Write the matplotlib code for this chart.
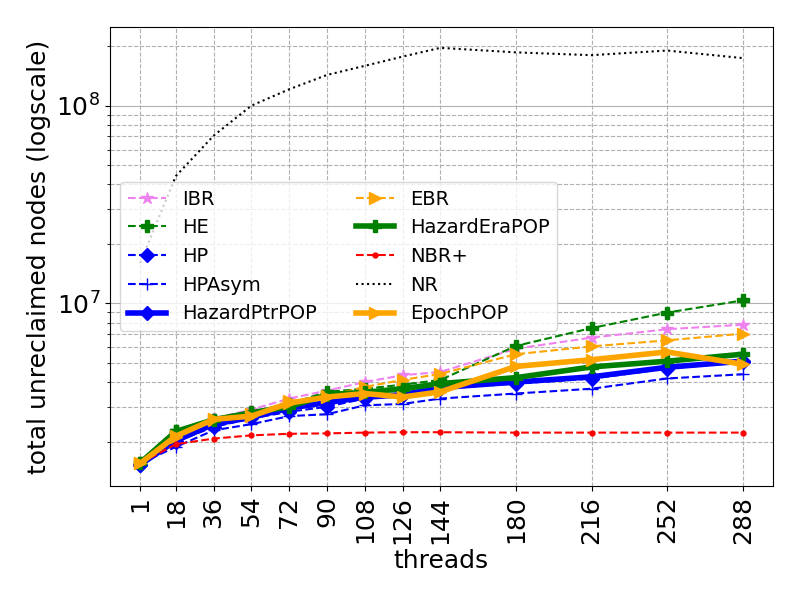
import matplotlib
matplotlib.use("Agg")
import matplotlib.pyplot as plt

threads = [1, 18, 36, 54, 72, 90, 108, 126, 144, 180, 216, 252, 288]

IBR          = [1.55e6, 2.10e6, 2.62e6, 2.90e6, 3.30e6, 3.62e6, 4.00e6, 4.33e6, 4.50e6, 5.90e6, 6.71e6, 7.40e6, 7.80e6]
HE           = [1.55e6, 2.26e6, 2.58e6, 2.83e6, 3.10e6, 3.57e6, 3.70e6, 3.88e6, 4.10e6, 6.09e6, 7.50e6, 8.98e6, 1.035e7]
HP           = [1.52e6, 2.00e6, 2.37e6, 2.62e6, 2.83e6, 3.00e6, 3.30e6, 3.43e6, 3.70e6, 3.93e6, 4.16e6, 4.68e6, 5.05e6]
HPAsym       = [1.55e6, 1.88e6, 2.28e6, 2.45e6, 2.69e6, 2.75e6, 3.05e6, 3.10e6, 3.30e6, 3.50e6, 3.70e6, 4.17e6, 4.38e6]
HazardPtrPOP = [1.53e6, 2.02e6, 2.45e6, 2.65e6, 2.95e6, 3.15e6, 3.35e6, 3.45e6, 3.75e6, 4.00e6, 4.25e6, 4.75e6, 5.10e6]
EBR          = [1.55e6, 2.12e6, 2.58e6, 2.75e6, 3.20e6, 3.40e6, 3.78e6, 4.10e6, 4.40e6, 5.53e6, 6.06e6, 6.50e6, 7.03e6]
HazardEraPOP = [1.56e6, 2.25e6, 2.58e6, 2.80e6, 3.00e6, 3.45e6, 3.55e6, 3.70e6, 3.93e6, 4.21e6, 4.77e6, 5.10e6, 5.53e6]
NBRplus      = [1.55e6, 1.94e6, 2.07e6, 2.15e6, 2.19e6, 2.20e6, 2.22e6, 2.23e6, 2.23e6, 2.22e6, 2.22e6, 2.22e6, 2.22e6]
NR           = [1.6e7, 4.4e7, 7.05e7, 1.0e8, 1.21e8, 1.43e8, 1.59e8, 1.77e8, 1.96e8, 1.86e8, 1.80e8, 1.90e8, 1.74e8]
EpochPOP     = [1.55e6, 2.13e6, 2.59e6, 2.69e6, 3.13e6, 3.36e6, 3.50e6, 3.36e6, 3.57e6, 4.80e6, 5.19e6, 5.68e6, 4.92e6]

fig, ax = plt.subplots(figsize=(8, 6), dpi=100)
fig.subplots_adjust(left=0.1375, right=0.966, top=0.955, bottom=0.19)

ax.plot(threads, IBR, color='violet', ls='--', marker='*', ms=9, label='IBR')
ax.plot(threads, HE, color='green', ls='--', marker='P', ms=8, label='HE')
ax.plot(threads, HP, color='blue', ls='--', marker='D', ms=7, label='HP')
ax.plot(threads, HPAsym, color='blue', ls='--', marker='+', ms=9, label='HPAsym')
ax.plot(threads, HazardPtrPOP, color='blue', ls='-', lw=4, marker='D', ms=7, label='HazardPtrPOP')
ax.plot(threads, EBR, color='orange', ls='--', marker='>', ms=8, label='EBR')
ax.plot(threads, HazardEraPOP, color='green', ls='-', lw=4, marker='P', ms=8, label='HazardEraPOP')
ax.plot(threads, NBRplus, color='red', ls='--', marker='.', ms=7, label='NBR+')
ax.plot(threads, NR, color='black', ls=':', label='NR')
ax.plot(threads, EpochPOP, color='orange', ls='-', lw=4, marker='>', ms=8, label='EpochPOP')

ax.set_yscale('log')
ax.set_xticks(threads)
ax.set_xticklabels([str(t) for t in threads], rotation=90, fontsize=18)
ax.tick_params(axis='y', labelsize=18)
ax.set_xlabel('threads', fontsize=18)
ax.set_ylabel('total unreclaimed nodes (logscale)', fontsize=18)

ax.grid(True, which='both', ls='--')
ax.yaxis.grid(True, which='major', ls='-')

ax.legend(loc='center left', ncol=2, fontsize=14)

fig.savefig('out.png', dpi=100)
